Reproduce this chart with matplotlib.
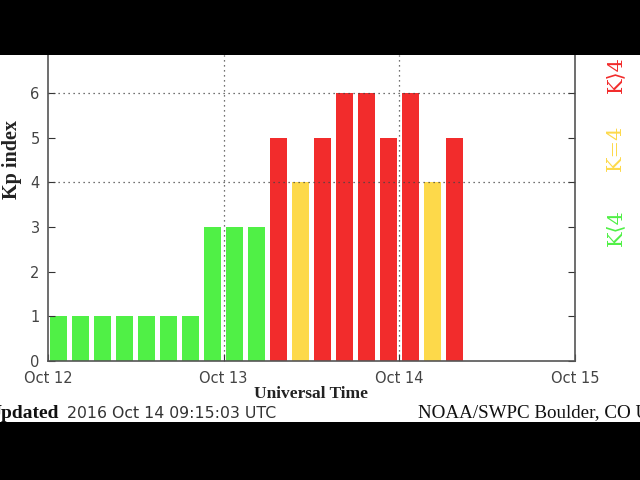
import matplotlib
matplotlib.use("Agg")
import matplotlib.pyplot as plt
import matplotlib.dates as mdates
from matplotlib.patches import Rectangle
import pandas as pd
import numpy as np

# ---- data ----
start_time = "2016-10-12 00:00"
kp_values = [1, 1, 1, 1, 1, 1, 1, 3,
             3, 3, 5, 4, 5, 6, 6, 5,
             6, 4, 5]
day_ticks = ["2016-10-12", "2016-10-13", "2016-10-14", "2016-10-15"]
day_labels = ["Oct 12", "Oct 13", "Oct 14", "Oct 15"]
y_ticks = [0, 1, 2, 3, 4, 5, 6]
grid_levels = [4, 6]
legend_labels = ["K\u27e84", "K=4", "K\u27e94"]

GREEN = "#50f046"
YELLOW = "#fdd94a"
RED = "#f22c2c"

times = pd.date_range(start_time, periods=len(kp_values), freq="3h")
centers = mdates.date2num(times) + 0.0625
colors = [GREEN if v < 4 else (YELLOW if v == 4 else RED) for v in kp_values]

fig = plt.figure(figsize=(6.4, 4.8), dpi=100, facecolor="white")
ax = fig.add_axes([48 / 640, 119 / 480, 527 / 640, 306 / 480])

ax.bar(centers, kp_values, width=0.097, color=colors, zorder=1, linewidth=0)

xt = mdates.date2num(pd.to_datetime(day_ticks))
ax.set_xlim(xt[0], xt[-1])
ax.set_ylim(0, 6.85)
ax.set_xticks(xt)
ax.set_xticklabels(day_labels)
ax.set_xticks(mdates.date2num(pd.date_range(day_ticks[0], day_ticks[-1], freq="3h")), minor=True)
ax.set_yticks(y_ticks)

for x in xt[1:-1]:
    ax.axvline(x, color="#444444", linestyle=(0, (1, 3)), linewidth=0.9, zorder=3)
for y in grid_levels:
    ax.axhline(y, color="#444444", linestyle=(0, (1, 3)), linewidth=0.9, zorder=3)

for s in ["left", "right", "bottom"]:
    ax.spines[s].set_color("#555555")
    ax.spines[s].set_linewidth(1.2)
ax.spines["top"].set_visible(False)

ax.tick_params(axis="both", which="major", direction="in", length=5, color="#333333",
               labelsize=10.5, labelcolor="#444444", right=True)
ax.tick_params(axis="x", which="major", pad=7)
ax.tick_params(axis="y", which="major", pad=6)
ax.tick_params(axis="x", which="minor", direction="in", length=5, color="white", width=1)
for lab in ax.get_xticklabels() + ax.get_yticklabels():
    lab.set_fontfamily("DejaVu Sans")

ax.set_xlabel("Universal Time", fontfamily="Liberation Serif", fontweight="bold",
              fontsize=12.5, color="#222222", labelpad=0)
ax.set_ylabel("Kp index", fontfamily="Liberation Serif", fontweight="bold",
              fontsize=14.5, color="#222222")
ax.yaxis.set_label_coords(-0.049, 0.657)

# right-side legend labels
leg_fam = ["DejaVu Serif", "DejaVu Sans"]
fig.text(615.5 / 640, 1 - 228 / 480, legend_labels[0], color=GREEN, rotation=90,
         ha="center", va="center", fontsize=15, family=leg_fam)
fig.text(615.5 / 640, 1 - 148 / 480, legend_labels[1], color=YELLOW, rotation=90,
         ha="center", va="center", fontsize=15, family=leg_fam)
fig.text(615.5 / 640, 1 - 75 / 480, legend_labels[2], color=RED, rotation=90,
         ha="center", va="center", fontsize=15, family=leg_fam)

# footer text
fig.text(59 / 640, 1 - 413 / 480, "Updated", ha="right", va="center", fontsize=14,
         fontfamily="Liberation Serif", fontweight="bold", color="#111111")
fig.text(67 / 640, 1 - 413 / 480, "2016 Oct 14 09:15:03 UTC", ha="left", va="center",
         fontsize=11.3, fontfamily="DejaVu Sans", color="#333333")
fig.text(418 / 640, 1 - 413 / 480, "NOAA/SWPC Boulder, CO USA", ha="left", va="center",
         fontsize=13.7, fontfamily="Liberation Serif", color="#111111")

# letterbox bands
fig.patches.append(Rectangle((0, 1 - 55 / 480), 1, 55 / 480, transform=fig.transFigure,
                             facecolor="black", edgecolor="none", zorder=10))
fig.patches.append(Rectangle((0, 0), 1, 58 / 480, transform=fig.transFigure,
                             facecolor="black", edgecolor="none", zorder=10))

fig.savefig("out.png", dpi=100, facecolor="white")
